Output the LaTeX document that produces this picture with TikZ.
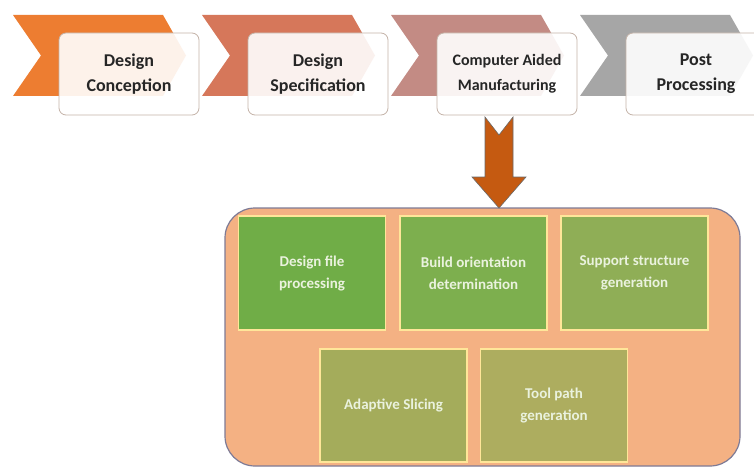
\documentclass[tikz,border=0pt]{standalone}
\usepackage{fontspec}
\setmainfont{Carlito}
\definecolor{chevA}{HTML}{ED7D31}
\definecolor{chevB}{HTML}{D6775A}
\definecolor{chevC}{HTML}{C38B84}
\definecolor{chevD}{HTML}{A6A6A6}
\definecolor{boxline}{HTML}{C4B3A8}
\definecolor{textdark}{HTML}{262626}
\definecolor{arrowfill}{HTML}{C55A11}
\definecolor{arrowline}{HTML}{6A6A6A}
\definecolor{panel}{HTML}{F4B183}
\definecolor{panelline}{HTML}{7E7B96}
\definecolor{taskline}{HTML}{FFE699}
\definecolor{tasktext}{HTML}{EAF2DE}
\definecolor{taskA}{HTML}{70AD47}
\definecolor{taskB}{HTML}{7DAF4E}
\definecolor{taskC}{HTML}{8FAE56}
\definecolor{taskD}{HTML}{A4AC5B}
\definecolor{taskE}{HTML}{ADAD5F}
\begin{document}
\begin{tikzpicture}[x=1pt,y=-1pt,
  stage/.style={draw=boxline, line width=0.8pt, rounded corners=7pt,
    fill=white, fill opacity=0.9, text opacity=1,
    minimum width=140pt, minimum height=82pt, inner sep=0pt,
    align=center, text=textdark, font=\bfseries\fontsize{18}{25}\selectfont},
  task/.style={draw=taskline, line width=1.3pt,
    minimum width=147pt, minimum height=114pt, inner sep=0pt,
    align=center, text=tasktext, font=\bfseries\fontsize{15}{22}\selectfont}]
\useasboundingbox (0,0) rectangle (754,468);
\clip (0,0) rectangle (754,468);
\fill[white] (0,0) rectangle (754,468);

% chevrons behind the stage boxes
\foreach \cx/\col in {129/chevA,318/chevB,507/chevC,696/chevD}
  \fill[\col] (\cx-116,15) -- (\cx+34,15) -- (\cx+57,55.5)
    -- (\cx+34,96) -- (\cx-116,96) -- (\cx-88,55.5) -- cycle;

% process stages
\node[stage] (conc) at (129,74) {Design\\Conception};
\node[stage] (spec) at (318,74) {Design\\Specification};
\node[stage, font=\bfseries\fontsize{16}{25}\selectfont] (cam) at (507,74) {Computer Aided\\Manufacturing};
\node[stage] (post) at (696,74) {Post\\Processing};

% panel with the CAM tasks
\node[draw=panelline, fill=panel, line width=1.2pt, rounded corners=30pt,
  minimum width=515pt, minimum height=258pt, inner sep=0pt] (panel) at (482.5,337) {};

\node[task, fill=taskA] (dfp) at (312,273) {Design file\\processing};
\node[task, fill=taskB] (bod) at (473.5,273) {Build orientation\\determination};
\node[task, fill=taskC] (ssg) at (634.5,273) {Support structure\\generation};
\node[task, fill=taskD, minimum height=113pt] (slc) at (393.5,405.5) {Adaptive Slicing};
\node[task, fill=taskE, minimum height=113pt] (tpg) at (554,405.5) {Tool path\\generation};

% notched block arrow from CAM down to the panel
\filldraw[fill=arrowfill, draw=arrowline, line width=0.6pt, line join=miter]
  (485,117) -- (499,135) -- (513,117) -- (513,177) -- (526,177)
  -- (499,208) -- (472,177) -- (485,177) -- cycle;
\end{tikzpicture}
\end{document}
